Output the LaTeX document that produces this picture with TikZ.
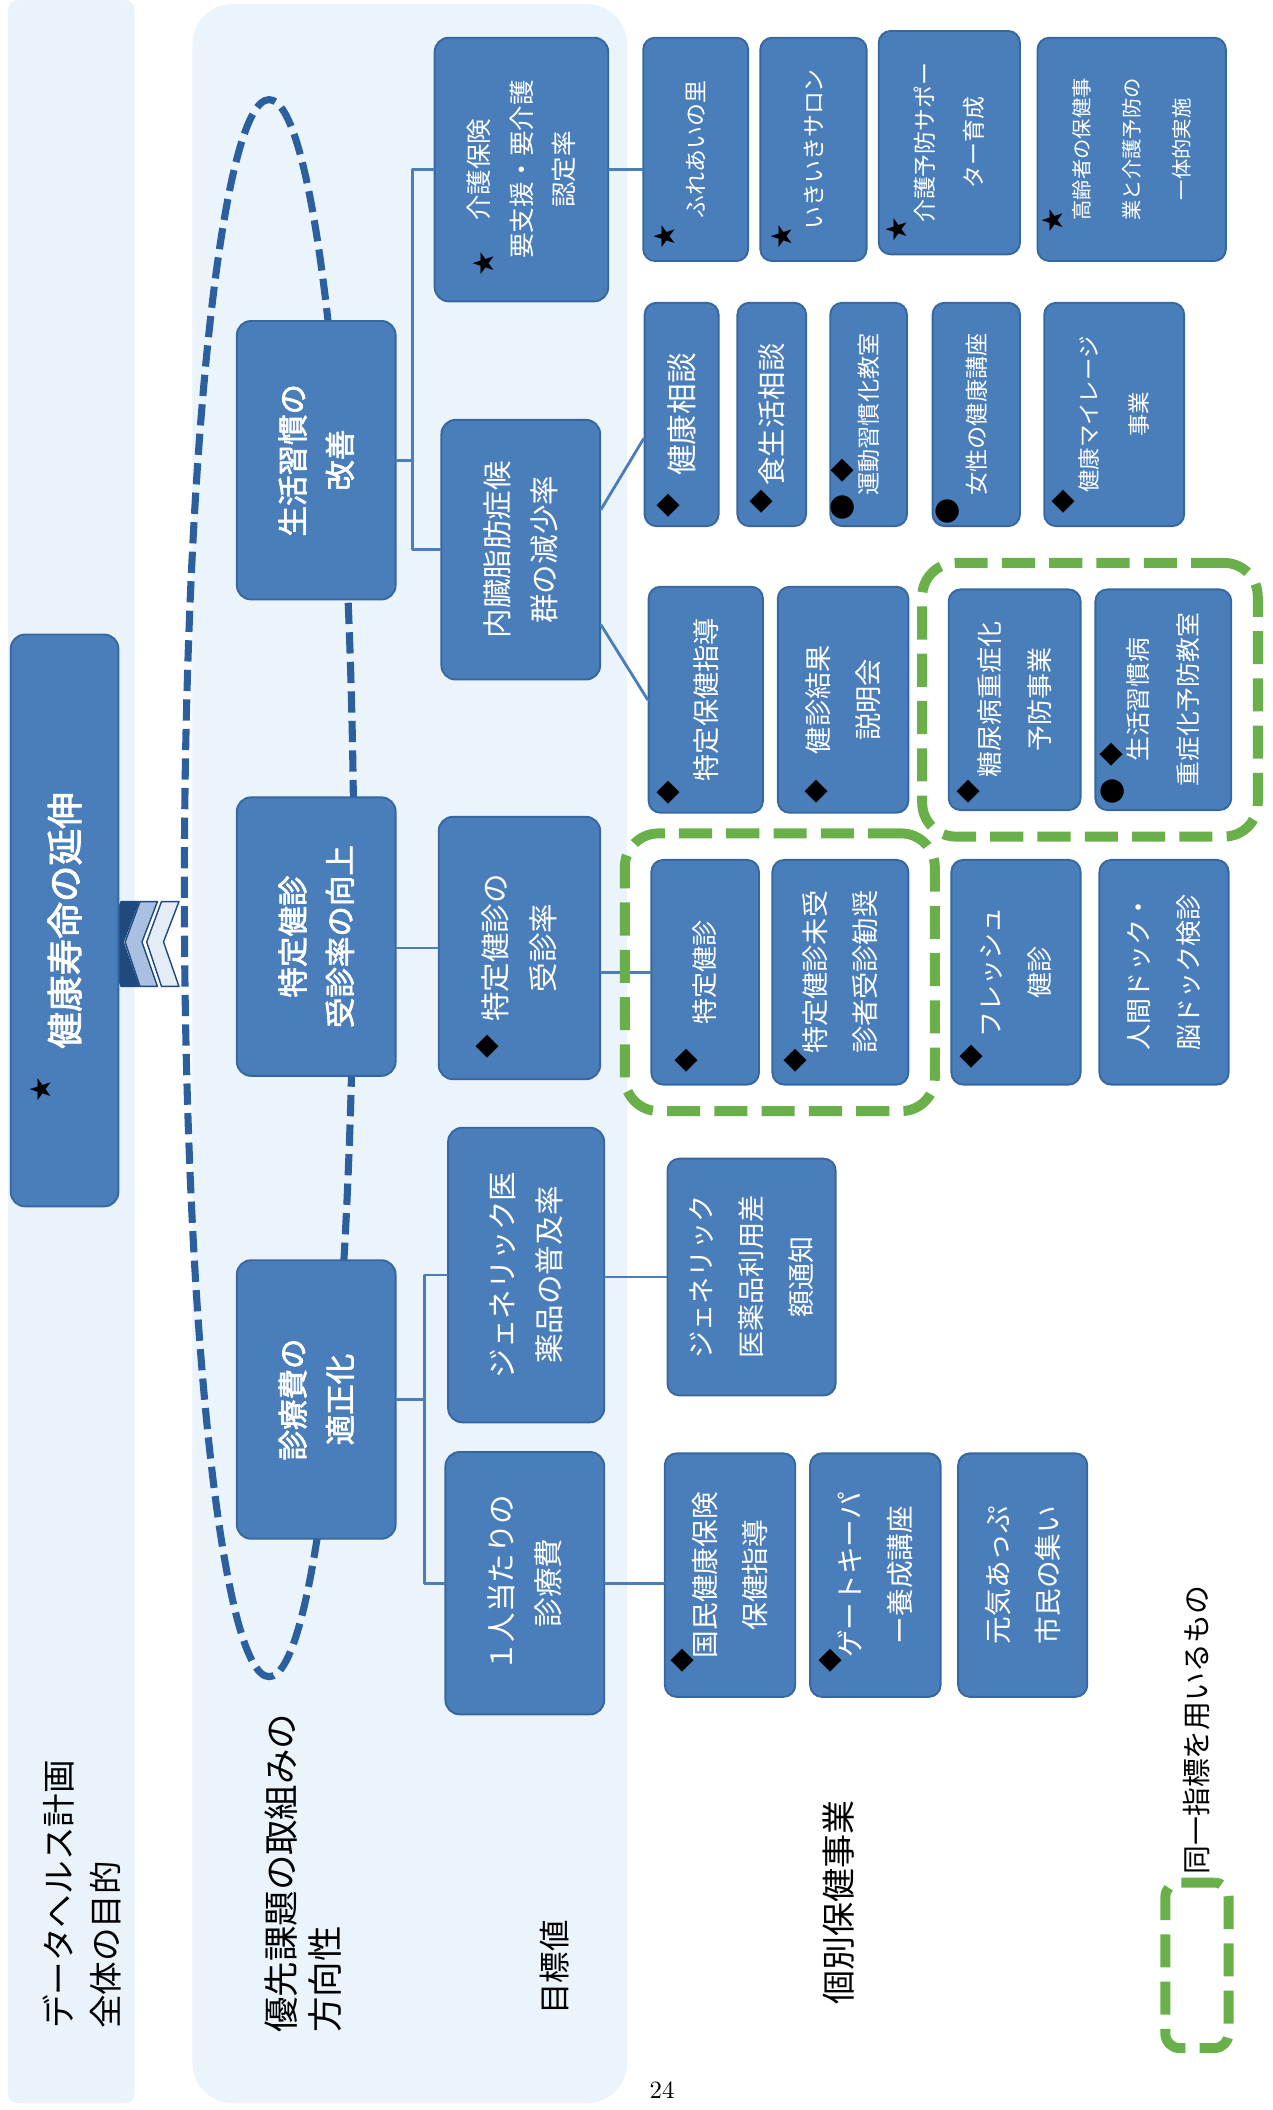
\documentclass[tikz,border=0pt]{standalone}
\usepackage{fontspec}
\newfontfamily\jp{Noto Sans CJK JP}
\newfontfamily\jpb{Noto Sans CJK JP}[FakeBold=2.2]
\usetikzlibrary{calc}
\usetikzlibrary{fit}
\definecolor{boxc}{HTML}{4A7EBB}
\definecolor{bordc}{HTML}{36679E}
\definecolor{linkc}{HTML}{4A7EBB}
\definecolor{ringc}{HTML}{2B5F9E}
\definecolor{grpc}{HTML}{6AB04A}
\definecolor{panelc}{HTML}{EBF3FB}
\definecolor{stripc}{HTML}{EAF2FA}
\definecolor{chvdark}{HTML}{1F4A80}
\definecolor{chvmid}{HTML}{A9C0E0}
\definecolor{chvlight}{HTML}{E4ECF6}

\begin{document}
\begin{tikzpicture}[line cap=round,line join=round, x=0.02cm, y=-0.02cm,
  box/.style={draw=bordc, fill=boxc, line width=0.8pt, rounded corners=6pt, rotate=90, text=white, align=center, inner sep=0pt},
  toplvl/.style={box, font=\jpb\fontsize{15.5}{20}\selectfont},
  aim/.style={box, font=\jpb\fontsize{12.9}{20}\selectfont, minimum width=4.14cm, minimum height=2.36cm},
  goal/.style={box, font=\jp\fontsize{12.5}{20}\selectfont},
  job/.style={box, rounded corners=5pt, font=\jp\fontsize{#1}{21}\selectfont},
  mk/.style={inner sep=0pt, rotate=90, text=black, font=\jp\fontsize{#1}{#1}\selectfont},
  link/.style={draw=linkc, line width=1.2pt},
  grp/.style={draw=grpc, line width=4.2pt, line cap=butt, dash pattern=on 14pt off 6pt, rounded corners=0.5cm},
  lbl/.style={rotate=90, inner sep=0pt, align=left, font=\jp\fontsize{#1}{20}\selectfont}]
\useasboundingbox (0,0) rectangle (946,1568);
% background bands
\fill[stripc, rounded corners=4pt] (6,0) rectangle (100,1563);
\fill[panelc, rounded corners=0.6cm] (143,3) rectangle (466,1563);
% ring round the three aims
\draw[ringc, line width=3pt, line cap=butt, dash pattern=on 9pt off 3.5pt] (200,660) ellipse [x radius=63, y radius=586];
% chevrons
\foreach \t/\c in {79/chvdark, 93/chvmid, 109/chvlight}
  \filldraw[fill=\c, draw=chvdark, line width=0.6pt] (\t,700) -- (\t+11,670) -- (\t+24,670) -- (\t+12.5,700) -- (\t+24,733) -- (\t+11,733) -- cycle;

\node[toplvl, minimum width=8.5cm, minimum height=1.6cm] (ttl) at (48,684) {健康寿命の延伸};

% aims
\node[aim] (sk) at (235,342) {生活習慣の\\改善};
\node[aim] (tk) at (235,696) {特定健診\\受診率の向上};
\node[aim] (sr) at (235,1040) {診療費の\\適正化};

% target values
\node[goal, font=\jp\fontsize{10.8}{18}\selectfont, minimum width=3.92cm, minimum height=2.58cm] (kg) at (387.5,126) {介護保険\\要支援・要介護\\認定率};
\node[goal, minimum width=3.86cm, minimum height=2.36cm] (nz) at (387,408.5) {内臓脂肪症候\\群の減少率};
\node[goal, minimum width=3.9cm, minimum height=2.4cm] (ju) at (386,704.5) {特定健診の\\受診率};
\node[goal, minimum width=4.38cm, minimum height=2.32cm] (ge) at (391,947.5) {ジェネリック医\\薬品の普及率};
\node[goal, minimum width=3.9cm, minimum height=2.36cm] (hi) at (390,1176.5) {１人当たりの\\診療費};

% health programmes
\node[job=9.7, minimum width=3.32cm, minimum height=1.56cm] (fu) at (517,111) {ふれあいの里};
\node[job=9.7, minimum width=3.32cm, minimum height=1.58cm] (ik) at (604.5,111) {いきいきサロン};
\node[job=9.7, minimum width=3.32cm, minimum height=2.1cm] (ky) at (705.5,106) {介護予防サポー\\ター育成};
\node[job=8.6, minimum width=3.32cm, minimum height=2.8cm] (ko) at (841,111) {高齢者の保健事\\業と介護予防の\\一体的実施};

\node[job=13, minimum width=3.32cm, minimum height=1.1cm] (kn) at (506.5,308) {健康相談};
\node[job=12, minimum width=3.32cm, minimum height=1.02cm] (sy) at (573.5,308) {食生活相談};
\node[job=9.8, minimum width=3.32cm, minimum height=1.14cm] (ud) at (645.5,308) {運動習慣化教室};
\node[job=9.8, minimum width=3.32cm, minimum height=1.3cm] (jo) at (725.5,308) {女性の健康講座};
\node[job=9.5, minimum width=3.32cm, minimum height=2.08cm] (mi) at (828,308) {健康マイレージ\\事業};

\node[job=11.5, minimum width=3.36cm, minimum height=1.7cm] (th) at (524.5,520) {特定保健指導};
\node[job=11.5, minimum width=3.36cm, minimum height=1.94cm] (ks) at (626.5,520) {健診結果\\説明会};
\node[job=11, minimum width=3.28cm, minimum height=1.96cm] (to) at (754,520) {糖尿病重症化\\予防事業};
\node[job=10.5, minimum width=3.28cm, minimum height=2.02cm] (sj) at (864.5,520) {生活習慣病\\重症化予防教室};

\node[job=11, minimum width=3.34cm, minimum height=1.6cm] (tt) at (524,722.5) {特定健診};
\node[job=11.5, minimum width=3.34cm, minimum height=2.02cm] (mj) at (624.5,722.5) {特定健診未受\\診者受診勧奨};
\node[job=11, minimum width=3.34cm, minimum height=1.92cm] (fr) at (755,722.5) {フレッシュ\\健診};
\node[job=11, minimum width=3.34cm, minimum height=1.92cm] (nd) at (865,722.5) {人間ドック・\\脳ドック検診};

\node[job=11.5, minimum width=3.52cm, minimum height=2.5cm] (gt) at (558.5,949) {ジェネリック\\医薬品利用差\\額通知};

\node[job=11.7, minimum width=3.62cm, minimum height=1.94cm] (kk) at (542.5,1170.5) {国民健康保険\\保健指導};
\node[job=11.7, minimum width=3.62cm, minimum height=1.94cm] (gk) at (650.5,1170.5) {ゲートキーパ\\ー養成講座};
\node[job=11.7, minimum width=3.62cm, minimum height=1.92cm] (gn) at (760,1170.5) {元気あっぷ\\市民の集い};

% connectors
\draw[link] (sk.south) -- ++(12,0) coordinate (j1);
\draw[link] (kg.north) -| (j1) |- (nz.north);
\draw[link] (ju.north -| tk.south) -- (ju.north);
\draw[link] (sr.south) -- ++(21,0) coordinate (j3);
\draw[link] (ge.north) -| (j3) |- (hi.north);
\draw[link] (kg.south) -- (kg.south -| fu.north);
\draw[link] ($(nz.south)+(0,-30)$) -- ($(kn.north)+(0,18)$);
\draw[link] ($(nz.south)+(0,56)$) -- (th.north);
\draw[link] (tt.north -| ju.south) -- (tt.north);
\draw[link] (gt.north -| ge.south) -- (gt.north);
\draw[link] (hi.south) -- (hi.south -| kk.north);

% same indicator groups
\node[grp, fit=(to)(sj), inner sep=0.38cm] (g1) {};
\node[grp, fit=(tt)(mj), inner sep=0.38cm] (g2) {};

% markers
\foreach \x/\y/\s/\z [count=\i] in {30/810/★/10, 359/196/★/10, 362/778/◆/10, 494/176/★/10, 581/176/★/10, 666/171/★/10, 782/164/★/10, 497/376/◆/10, 566/373/◆/10, 626/350/◆/10, 626/377/●/11, 704/380/●/11, 790/373/◆/10, 497/589/◆/10, 607/588/◆/10, 720/588/◆/10, 826/561/◆/10, 827/588/●/11, 510/788/◆/10, 591/788/◆/10, 722/785/◆/10, 507/1234/◆/10, 617/1234/◆/10}
  \node[mk=\z] (m\i) at (\x,\y) {\s};

% row labels
\node[lbl=14.2, anchor=west] (dhp) at (61,1508) {データヘルス計画\\全体の目的};
\node[lbl=15, font=\jp\fontsize{15}{18.5}\selectfont, anchor=west] (yu) at (225,1511) {優先課題の取組みの\\方向性};
\node[lbl=13.3] (mh) at (412,1462) {目標値};
\node[lbl=14.4] (kb) at (623,1414) {個別保健事業};

% legend
\node[grp, rounded corners=6pt, minimum width=0.94cm, minimum height=2.46cm, inner sep=0pt] (lgd) at (889.5,1460.5) {};
\node[lbl=12.2, anchor=west] (lgdtxt) at ($(lgd.north)+(0,-2)$) {同一指標を用いるもの};

\node[font=\fontsize{10.5}{12}\selectfont] (pg) at (492,1553) {24};
\end{tikzpicture}
\end{document}
